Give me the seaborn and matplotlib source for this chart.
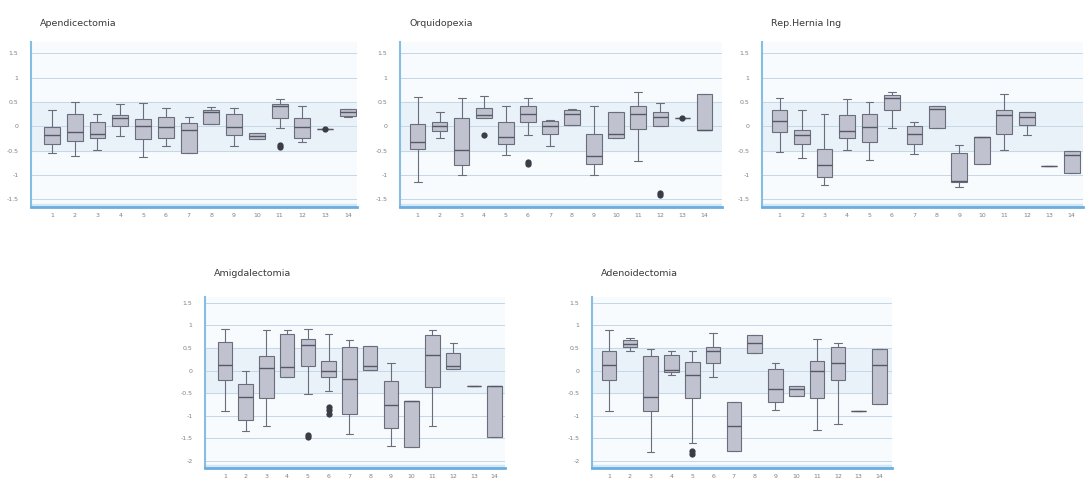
import numpy as np
import pandas as pd
import matplotlib
matplotlib.use("Agg")
import matplotlib.pyplot as plt
import seaborn as sns

sns.set_style("white")
plt.rcParams['font.family'] = ['DejaVu Sans']

categories = [str(i) for i in range(1, 15)]

titles = ["Apendicectomia", "Orquidopexia", "Rep.Hernia Ing", "Amigdalectomia", "Adenoidectomia"]

# five-number summaries per panel (whisker low, q1, median, q3, whisker high)
apend_lo  = [-0.56, -0.62, -0.49, -0.20, -0.64, -0.41, -0.55, 0.05, -0.41, -0.27, -0.03, -0.33, -0.05, 0.19]
apend_q1  = [-0.36, -0.31, -0.24, 0.00, -0.27, -0.24, -0.55, 0.05, -0.19, -0.27, 0.17, -0.24, -0.05, 0.20]
apend_med = [-0.18, -0.12, -0.16, 0.17, 0.01, -0.02, -0.07, 0.29, -0.02, -0.20, 0.42, -0.02, -0.05, 0.30]
apend_q3  = [-0.02, 0.26, 0.09, 0.22, 0.15, 0.18, 0.06, 0.34, 0.25, -0.14, 0.46, 0.17, -0.05, 0.35]
apend_hi  = [0.34, 0.50, 0.25, 0.45, 0.47, 0.38, 0.19, 0.40, 0.38, -0.14, 0.55, 0.41, -0.05, 0.36]
apend_out_cat = ["11", "11", "13"]
apend_out_val = [-0.38, -0.42, -0.05]

orqui_lo  = [-1.15, -0.25, -1.01, 0.16, -0.60, -0.19, -0.40, 0.03, -1.01, -0.24, -0.72, 0.00, 0.17, -0.08]
orqui_q1  = [-0.46, -0.10, -0.80, 0.16, -0.36, 0.09, -0.17, 0.03, -0.77, -0.24, -0.05, 0.00, 0.17, -0.08]
orqui_med = [-0.32, 0.00, -0.49, 0.22, -0.23, 0.25, 0.01, 0.25, -0.62, -0.17, 0.25, 0.18, 0.17, -0.07]
orqui_q3  = [0.05, 0.08, 0.17, 0.38, 0.08, 0.41, 0.10, 0.34, -0.17, 0.29, 0.42, 0.29, 0.17, 0.66]
orqui_hi  = [0.60, 0.29, 0.58, 0.62, 0.42, 0.58, 0.12, 0.36, 0.41, 0.29, 0.70, 0.47, 0.17, 0.66]
orqui_out_cat = ["4", "6", "6", "12", "12", "13"]
orqui_out_val = [-0.18, -0.73, -0.77, -1.37, -1.41, 0.17]

hernia_lo  = [-0.53, -0.65, -1.20, -0.49, -0.70, -0.03, -0.57, -0.03, -1.25, -0.77, -0.48, -0.18, -0.81, -0.96]
hernia_q1  = [-0.12, -0.36, -1.05, -0.24, -0.33, 0.33, -0.36, -0.03, -1.15, -0.77, -0.16, 0.02, -0.81, -0.96]
hernia_med = [0.10, -0.18, -0.80, -0.10, -0.02, 0.57, -0.15, 0.36, -1.12, -0.23, 0.22, 0.18, -0.81, -0.60]
hernia_q3  = [0.34, -0.07, -0.46, 0.22, 0.25, 0.64, 0.01, 0.41, -0.56, -0.23, 0.34, 0.29, -0.81, -0.50]
hernia_hi  = [0.58, 0.34, 0.26, 0.55, 0.50, 0.70, 0.09, 0.42, -0.38, -0.23, 0.66, 0.29, -0.81, -0.50]
hernia_out_cat = []
hernia_out_val = []

amig_lo  = [-0.90, -1.33, -1.22, -0.15, -0.52, -0.46, -1.41, 0.02, -1.66, -1.68, -1.22, 0.04, -0.35, -1.46]
amig_q1  = [-0.20, -1.09, -0.61, -0.15, 0.10, -0.15, -0.96, 0.02, -1.27, -1.68, -0.37, 0.04, -0.35, -1.46]
amig_med = [0.13, -0.59, 0.06, 0.08, 0.56, 0.00, -0.19, 0.10, -0.76, -0.68, 0.34, 0.11, -0.35, -0.35]
amig_q3  = [0.63, -0.30, 0.32, 0.80, 0.71, 0.22, 0.52, 0.54, -0.24, -0.68, 0.78, 0.38, -0.35, -0.35]
amig_hi  = [0.93, 0.00, 0.91, 0.90, 0.93, 0.80, 0.67, 0.54, 0.17, -0.68, 0.90, 0.62, -0.35, -0.35]
amig_out_cat = ["5", "5", "6", "6", "6"]
amig_out_val = [-1.43, -1.47, -0.80, -0.88, -0.95]

adeno_lo  = [-0.90, 0.44, -1.79, -0.09, -1.61, -0.14, -1.78, 0.39, -0.87, -0.57, -1.31, -1.18, -0.90, -0.73]
adeno_q1  = [-0.20, 0.52, -0.90, -0.03, -0.61, 0.16, -1.78, 0.39, -0.70, -0.57, -0.61, -0.20, -0.90, -0.73]
adeno_med = [0.13, 0.59, -0.59, 0.02, -0.10, 0.44, -1.22, 0.62, -0.41, -0.40, 0.00, 0.17, -0.90, 0.13]
adeno_q3  = [0.44, 0.67, 0.32, 0.34, 0.19, 0.52, -0.70, 0.79, 0.04, -0.35, 0.22, 0.52, -0.90, 0.49]
adeno_hi  = [0.90, 0.73, 0.47, 0.44, 0.44, 0.84, -0.70, 0.79, 0.17, -0.35, 0.71, 0.62, -0.90, 0.49]
adeno_out_cat = ["5", "5"]
adeno_out_val = [-1.78, -1.84]

panels = [
    (apend_lo, apend_q1, apend_med, apend_q3, apend_hi, apend_out_cat, apend_out_val),
    (orqui_lo, orqui_q1, orqui_med, orqui_q3, orqui_hi, orqui_out_cat, orqui_out_val),
    (hernia_lo, hernia_q1, hernia_med, hernia_q3, hernia_hi, hernia_out_cat, hernia_out_val),
    (amig_lo, amig_q1, amig_med, amig_q3, amig_hi, amig_out_cat, amig_out_val),
    (adeno_lo, adeno_q1, adeno_med, adeno_q3, adeno_hi, adeno_out_cat, adeno_out_val),
]

W, H = 1085, 479
fig = plt.figure(figsize=(W / 100, H / 100), dpi=100)

# (left, right, top, bottom) in pixels, xlim, ylim, title offset above
boxes_px = [
    (31, 357, 42, 207, (-0.92, 13.4), (-1.66, 1.73), 19),
    (400, 722, 42, 207, (-0.8, 13.8), (-1.66, 1.73), 19),
    (762, 1083, 42, 207, (-0.78, 13.5), (-1.66, 1.73), 19),
    (205, 505, 297, 468, (-0.96, 13.5), (-2.155, 1.63), 24),
    (592, 892, 297, 468, (-0.82, 13.6), (-2.155, 1.63), 24),
]

ytick_top = [1.5, 1, 0.5, 0, -0.5, -1, -1.5]
ytick_bot = [1.5, 1, 0.5, 0, -0.5, -1, -1.5, -2]

box_fill = "#c0c3cf"
box_edge = "#6a6e7a"

for i, (title, pdata, geo) in enumerate(zip(titles, panels, boxes_px)):
    lo, q1, med, q3, hi, ocat, oval = pdata
    l, r, t, b, xl, yl, toff = geo
    ax = fig.add_axes([l / W, 1 - b / H, (r - l) / W, (b - t) / H])
    ax.set_facecolor("#f8fbfe")
    ax.axhspan(-0.5, 0.5, color="#e9f1f9", zorder=0)
    yt = ytick_top if i < 3 else ytick_bot
    for v in yt:
        ax.axhline(v, color="#c5d7e5", lw=0.7, zorder=0.5)
    # light band just above the bottom axis line
    ax.axhspan(yl[0], yl[0] + 0.06, color="#d3e7f5", zorder=0.6)

    rows = []
    for c, a, bq, m, d, e in zip(categories, lo, q1, med, q3, hi):
        for v in (a, bq, m, d, e):
            rows.append({"grupo": c, "valor": v})
    df = pd.DataFrame(rows)
    sns.boxplot(data=df, x="grupo", y="valor", order=categories, ax=ax,
                whis=(0, 100), width=0.7, color=box_fill, linecolor=box_edge,
                linewidth=0.8, showfliers=False, saturation=1,
                medianprops={"color": "#555966", "linewidth": 1.0})
    if len(ocat):
        odf = pd.DataFrame({"grupo": ocat, "valor": oval})
        sns.stripplot(data=odf, x="grupo", y="valor", order=categories, ax=ax,
                      jitter=False, color="#3a3d45", size=4.5, marker="o", zorder=5)

    ax.set_xlim(*xl)
    ax.set_ylim(*yl)
    ax.set_yticks(yt)
    ax.set_yticklabels([("%g" % v) for v in yt])
    ax.set_xlabel("")
    ax.set_ylabel("")
    ax.tick_params(axis="both", length=0, labelsize=4.5, labelcolor="#808080")
    ax.tick_params(axis="y", pad=9)
    ax.tick_params(axis="x", pad=4)
    for s in ("top", "right"):
        ax.spines[s].set_visible(False)
    ax.spines["left"].set_color("#86bde3")
    ax.spines["left"].set_linewidth(1.5)
    ax.spines["bottom"].set_color("#6aaee0")
    ax.spines["bottom"].set_linewidth(2.0)
    ax.text(9 / (r - l), 1 + toff / (b - t), title, transform=ax.transAxes,
            fontsize=6.8, color="#3a3a3a", ha="left", va="center")

fig.savefig("out.png", dpi=100)
